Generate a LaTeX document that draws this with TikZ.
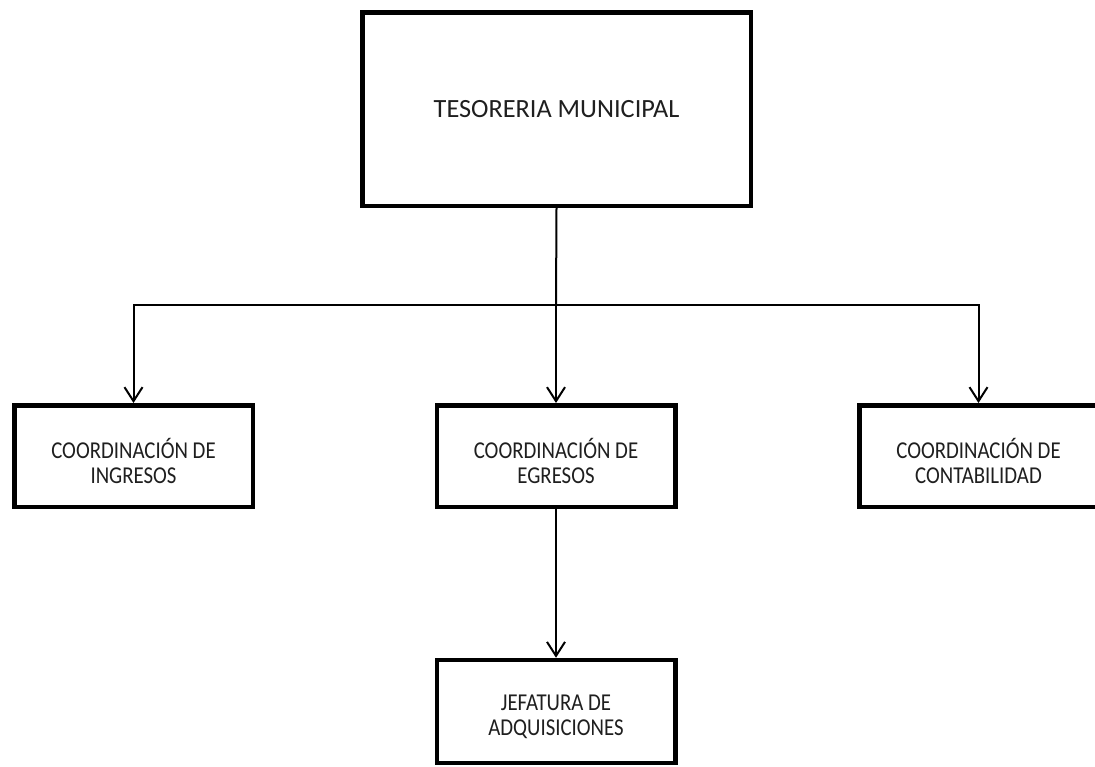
\documentclass[tikz,border=0pt]{standalone}
\usepackage{fontspec}
\setmainfont{Carlito}
\newfontfamily\boxfont[FakeStretch=0.86]{Carlito}
\usetikzlibrary{arrows.meta}
\begin{document}
\begin{tikzpicture}[x=1pt,y=-1pt,
  unit/.style={draw=black, line width=4.5pt, fill=white,
    inner sep=0pt, minimum width=238.5pt, minimum height=101.5pt},
  boxtext/.style={align=center, text=black!88, inner sep=0pt, yshift=-5pt,
    font=\boxfont\fontsize{24.2}{25}\selectfont},
  head/.style={unit, minimum width=388.5pt, minimum height=193.5pt,
    align=center, text=black!88, font=\fontsize{26.3}{30}\selectfont},
  link/.style={draw=black, line width=2pt,
    -{Straight Barb[length=14pt,width=18pt,line width=2pt]}}]
  \useasboundingbox (0,0) rectangle (1095,766);
  \fill[white] (0,0) rectangle (1095,766);

  % boxes
  \node[head] (tes) at (556.5,109) {TESORERIA MUNICIPAL};
  \node[unit, label={[boxtext]center:COORDINACIÓN DE\\INGRESOS}] (ing) at (133.5,456) {};
  \node[unit, label={[boxtext]center:COORDINACIÓN DE\\EGRESOS}] (egr) at (556,456) {};
  \node[unit, label={[boxtext]center:COORDINACIÓN DE\\CONTABILIDAD}] (con) at (978.5,456) {};
  \node[unit, minimum height=103pt,
        label={[boxtext]center:JEFATURA DE\\ADQUISICIONES}] (adq) at (556,711.5) {};

  % branching from the treasury
  \coordinate (split) at (556,305);
  \draw[line width=2pt] (tes.south) -- (split);
  \draw[link] (split) -| (ing.north);
  \draw[link] (split) -- (egr.north);
  \draw[link] (split) -| (con.north);
  \draw[link] (egr.south) -- (adq.north);
\end{tikzpicture}
\end{document}
